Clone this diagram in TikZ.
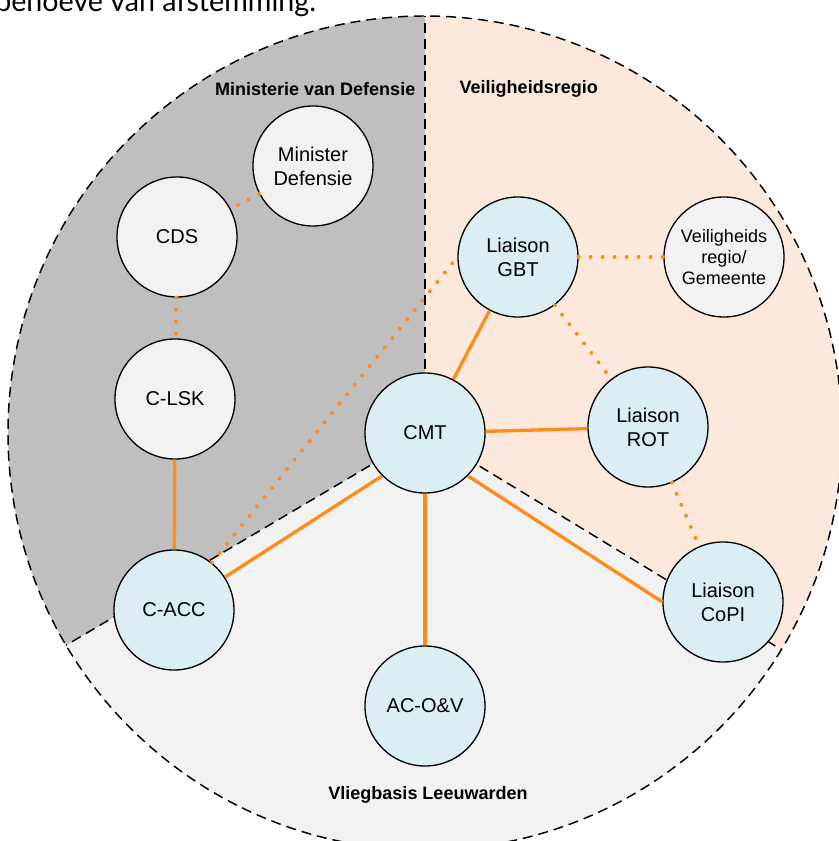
\documentclass[tikz,border=0pt]{standalone}
\usepackage{xcolor}
\usepackage{tikz}
\usepackage{fontspec}
\setmainfont{Liberation Sans}
\newfontfamily\introfont{Lato}
\usetikzlibrary{positioning}

\definecolor{mindefgray}{HTML}{BFBFBF}
\definecolor{vrpeach}{HTML}{FCE9DC}
\definecolor{basegray}{HTML}{F2F2F2}
\definecolor{nodeblue}{HTML}{DAEEF3}
\definecolor{linkorange}{HTML}{FF8C1A}

\begin{document}
\begin{tikzpicture}[
    x=75pt, y=75pt,
    actor/.style={circle, draw, line width=1pt, fill=nodeblue, minimum size=90pt, inner sep=0pt, align=center, font=\fontsize{15}{18}\selectfont},
    outer/.style={actor, fill=basegray},
    region/.style={font=\bfseries\fontsize{13.5}{16}\selectfont},
    border/.style={dash pattern=on 7.5pt off 4.5pt, line width=1.1pt},
    link/.style={linkorange, line width=2.5pt},
    dotlink/.style={linkorange, line width=3pt, line cap=round, dash pattern=on 0pt off 9pt}
]
    \useasboundingbox (-4.25,-4.08) rectangle (4.13,4.33);

    % Surrounding text (cut off)
    \node[anchor=base west, font=\introfont\fontsize{21.5}{25}\selectfont, inner sep=0pt] (intro) at (-4.30,4.215) {behoeve van afstemming.};

    % Sectors
    \coordinate (hub) at (0,0);
    \fill[basegray] (hub) circle (4.17);
    \fill[mindefgray] (hub) -- (90:4.17) arc[start angle=90, end angle=210.6, radius=4.17] -- cycle;
    \fill[vrpeach] (hub) -- (90:4.17) arc[start angle=90, end angle=-31.3, radius=4.17] -- cycle;
    \draw[border] (hub) circle (4.17);
    \draw[border] (hub) -- (90:4.17);
    \draw[border] (hub) -- (210.6:4.17);
    \draw[border] (hub) -- (-31.3:4.17);

    % Region labels
    \node[region, anchor=east] (mindeflabel) at (-0.05,3.44) {Ministerie van Defensie};
    \node[region, anchor=west] (vrlabel) at (0.30,3.44) {Veiligheidsregio};
    \node[region] (vblabel) at (0.03,-3.62) {Vliegbasis Leeuwarden};

    % Ministerie van Defensie
    \node[outer] (mindef) at (-1.12,2.67) {Minister\\Defensie};
    \node[outer] (cds) at (-2.48,1.96) {CDS};
    \node[outer] (clsk) at (-2.50,0.34) {C-LSK};

    % Vliegbasis
    \node[actor] (cmt) at (hub) {CMT};
    \node[actor] (cacc) at (-2.51,-1.77) {C-ACC};
    \node[actor] (acov) at (0,-2.73) {AC-O\&V};

    % Veiligheidsregio
    \node[actor] (gbt) at (0.93,1.76) {Liaison\\GBT};
    \node[outer, font=\fontsize{13.5}{15.75}\selectfont] (vrgem) at (2.99,1.76) {Veiligheids\\regio/\\Gemeente};
    \node[actor] (rot) at (2.23,0.06) {Liaison\\ROT};
    \node[actor] (copi) at (2.98,-1.69) {Liaison\\CoPI};

    % Lines
    \draw[dotlink] (mindef) -- (cds);
    \draw[dotlink] (cds) -- (clsk);
    \draw[link] (clsk) -- (cacc);
    \draw[dotlink] (cacc) -- (gbt.west);
    \draw[link] (cmt.south west) -- (cacc);
    \draw[link] (cmt) -- (acov);
    \draw[link] (cmt) -- (gbt);
    \draw[link] (cmt) -- (rot);
    \draw[link] (cmt.south east) -- (copi.west);
    \draw[dotlink] (gbt) -- (vrgem);
    \draw[dotlink] (gbt) -- (rot);
    \draw[dotlink] (rot) -- (copi);
\end{tikzpicture}
\end{document}
